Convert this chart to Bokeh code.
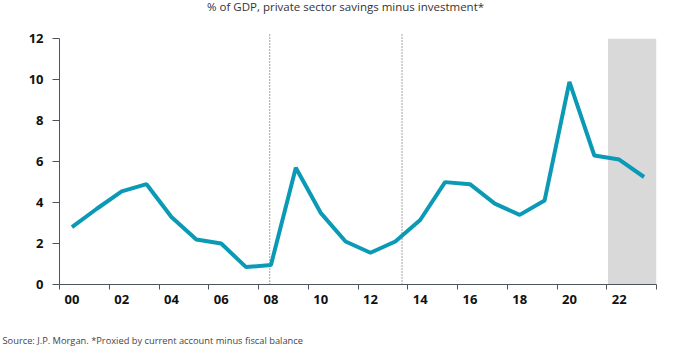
from bokeh.plotting import figure
from bokeh.models import FixedTicker, Title, Label
from bokeh.embed import file_html
from bokeh.resources import INLINE

# ---- data ----
years = list(range(2000, 2024))
values = [2.8, 3.7, 4.55, 4.9, 3.3, 2.2, 2.0, 0.85, 0.95, 5.7, 3.5, 2.1,
          1.55, 2.1, 3.15, 5.0, 4.9, 3.95, 3.4, 4.1, 9.9, 6.3, 6.1, 5.25]
tick_years = [2000, 2002, 2004, 2006, 2008, 2010, 2012, 2014, 2016, 2018, 2020, 2022]
tick_labels = ["00", "02", "04", "06", "08", "10", "12", "14", "16", "18", "20", "22"]
boundary_ticks = [1999.5 + 2 * i for i in range(13)]
y_ticks = [0, 2, 4, 6, 8, 10, 12]
event_lines = [2007.95, 2013.27]
shade_start, shade_end = 2021.55, 2023.5
title_text = "% of GDP, private sector savings minus investment*"
source_text = "Source: J.P. Morgan. *Proxied by current account minus fiscal balance"

FONT = "Open Sans"

# frame reaches the top of the canvas so the heading can sit inside it
p = figure(width=680, height=359, output_backend="svg", toolbar_location=None,
           x_range=(1999.5, 2023.5), y_range=(0, 13.87),
           min_border_left=59, min_border_right=24, min_border_top=0, min_border_bottom=75)
p.outline_line_color = None
p.xgrid.visible = False
p.ygrid.visible = False
p.background_fill_color = "white"
p.border_fill_color = "white"

# heading
p.add_layout(Label(x=2011.0, y=13.58, text=title_text, text_align="center",
                   text_baseline="middle", text_font=FONT, text_font_size="11.5px",
                   text_color="#333333"))

# spacer below the axis, then the source note
p.add_layout(Title(text=" ", align="left", standoff=10,
                   text_font=FONT, text_font_size="9.3px"), "below")
p.add_layout(Title(text=source_text, align="left", offset=-57, standoff=0,
                   text_font=FONT, text_font_size="9.3px", text_font_style="normal",
                   text_color="#444444"), "below")

# forecast shade
p.quad(left=[shade_start], right=[shade_end], bottom=[0], top=[12],
       fill_color="#d9d9d9", line_color=None)

# dotted event lines
p.segment(x0=event_lines, x1=event_lines, y0=[0, 0], y1=[12.31, 12.31],
          line_color="#666666", line_width=1.2, line_dash="1 2")

# main line
p.line(years, values, line_color="#0b9ab5", line_width=4)

axis_col = "#4a5560"
# y axis
ya = p.yaxis[0]
ya.ticker = FixedTicker(ticks=y_ticks)
ya.bounds = (0, 12)
ya.axis_line_color = axis_col
ya.major_tick_line_color = axis_col
ya.major_tick_in = 0
ya.major_tick_out = 7
ya.minor_tick_line_color = None
ya.major_label_standoff = 9
ya.major_label_text_font = FONT
ya.major_label_text_font_size = "13px"
ya.major_label_text_color = "#111111"
ya.major_label_text_font_style = "bold"

# x axis
xa = p.xaxis[0]
xa.ticker = FixedTicker(ticks=tick_years, minor_ticks=boundary_ticks)
xa.major_label_overrides = {y: l for y, l in zip(tick_years, tick_labels)}
xa.axis_line_color = axis_col
xa.axis_line_width = 1.2
xa.major_tick_line_color = None
xa.major_tick_in = 0
xa.major_tick_out = 0
xa.minor_tick_line_color = axis_col
xa.minor_tick_in = 0
xa.minor_tick_out = 5
xa.major_label_standoff = 5
xa.major_label_text_font = FONT
xa.major_label_text_font_size = "13px"
xa.major_label_text_color = "#111111"
xa.major_label_text_font_style = "bold"

open("out.html", "w").write(file_html(p, INLINE))
